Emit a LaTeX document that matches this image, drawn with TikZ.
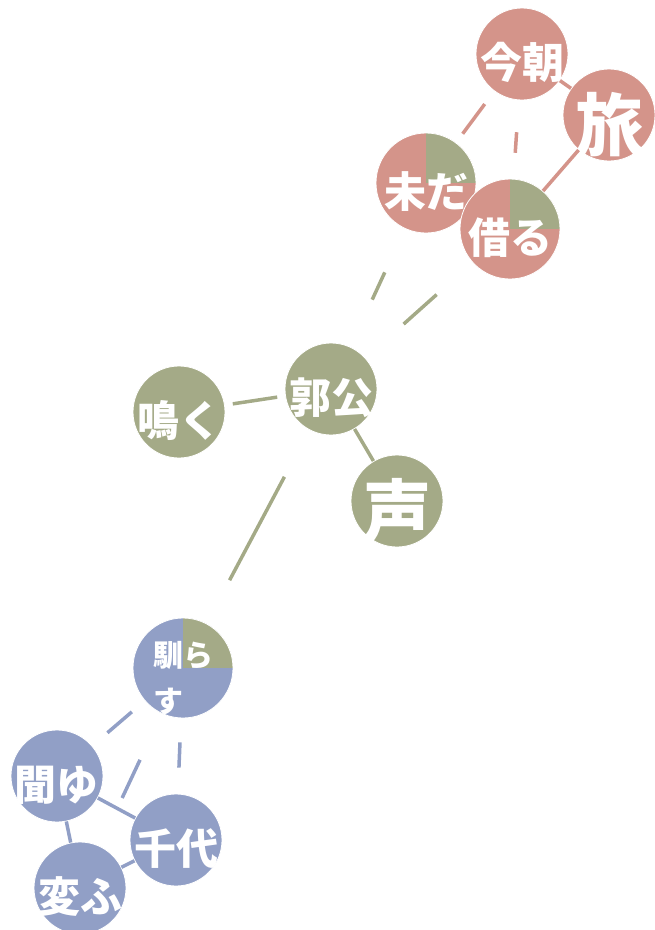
\documentclass[tikz,border=0pt]{standalone}
\usepackage{fontspec}
\usepackage{tikz}
\newfontfamily\jpfont{Noto Sans CJK JP}
\definecolor{kred}{HTML}{D4948A}
\definecolor{kgreen}{HTML}{A4AA87}
\definecolor{kblue}{HTML}{919FC6}
\usetikzlibrary{shapes,positioning}

\begin{document}
\begin{tikzpicture}[x=1pt,y=-1pt,
    ball/.style={circle, draw=white, line width=0.8pt, inner sep=-30pt, minimum size=92pt,
        text=white, font=\jpfont\bfseries\fontsize{42}{42}\selectfont,
        text height=48pt, text depth=0pt},
    wide/.style={minimum size=100pt},
    huge/.style={font=\jpfont\bfseries\fontsize{68}{68}\selectfont, text height=70pt},
    quarter/.style={path picture={\fill[kgreen] (path picture bounding box.center)
        rectangle (path picture bounding box.north east);}},
    link/.style={line width=3.5pt}]
\useasboundingbox (0,0) rectangle (654,930);

% red group
\node[ball, fill=kred] (kesa) at (522,54) {今朝};
\node[ball, huge, fill=kred] (tabi) at (609,115) {旅};
\node[ball, wide, quarter, fill=kred] (imada) at (426,183) {未だ};
\node[ball, wide, quarter, fill=kred] (karu) at (510,229) {借る};

% green group
\node[ball, fill=kgreen] (hototogisu) at (331,389) {郭公};
\node[ball, fill=kgreen] (naku) at (179,412) {鳴く};
\node[ball, huge, fill=kgreen] (koe) at (397,501) {声};

% blue group
\node[ball, wide, quarter, fill=kblue, align=left, text height=92pt, text depth={},
    font=\jpfont\bfseries\fontsize{30}{46}\selectfont] (narasu) at (183,668) {馴ら\\す};
\node[ball, fill=kblue] (kikoyu) at (57,776) {聞ゆ};
\node[ball, fill=kblue] (chiyo) at (176,840) {千代};
\node[ball, fill=kblue] (kawaru) at (80,888) {変ふ};

\draw[link, kred] (kesa) -- (tabi);
\draw[link, kred] (karu) -- (tabi);
\draw[link, kred, shorten <=16pt, shorten >=11pt] (kesa) -- (imada);
\draw[link, kred, shorten <=32pt, shorten >=26pt] (kesa) -- (karu);
\draw[link, kgreen, shorten <=48pt, shorten >=52pt] (imada) -- (hototogisu);
\draw[link, kgreen, shorten <=48pt, shorten >=51pt] (karu) -- (hototogisu);
\draw[link, kgreen, shorten <=8pt, shorten >=8pt] (naku) -- (hototogisu);
\draw[link, kgreen] (hototogisu) -- (koe);
\draw[link, kgreen, shorten <=53pt, shorten >=49pt] (hototogisu) -- (narasu);
\draw[link, kblue, shorten <=17pt, shorten >=20pt] (narasu) -- (kikoyu);
\draw[link, kblue, shorten <=24pt, shorten >=26pt] (narasu) -- (chiyo);
\draw[link, kblue, shorten <=51pt, shorten >=53pt] (narasu) -- (kawaru);
\draw[link, kblue] (kikoyu) -- (chiyo);
\draw[link, kblue] (kikoyu) -- (kawaru);
\draw[link, kblue] (chiyo) -- (kawaru);
\end{tikzpicture}
\end{document}
